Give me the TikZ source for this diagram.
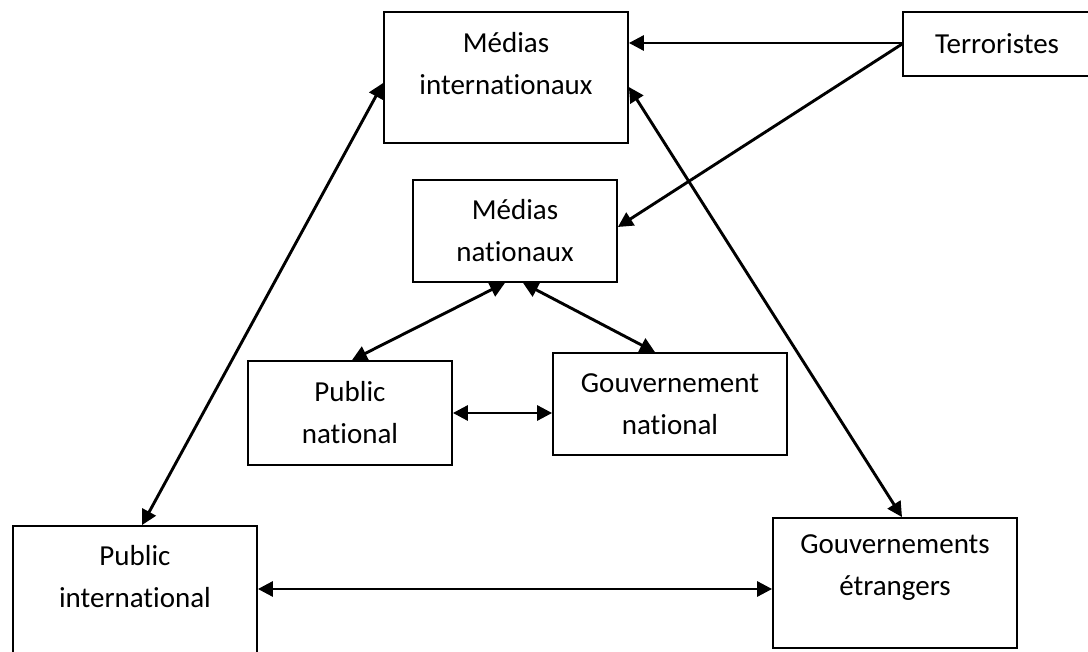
\documentclass[tikz,border=0pt]{standalone}
\usepackage{fontspec}
\setmainfont{Carlito}[Ligatures=NoCommon]
\usetikzlibrary{arrows.meta}
\begin{document}
\begin{tikzpicture}[x=1pt, y=-1pt, >={Triangle[length=15pt,width=15pt]},
  every node/.style={font=\fontsize{29}{42}\selectfont},
  actor/.style={draw, line width=1.8pt, align=center, inner sep=0pt},
  link/.style={<->, line width=2.9pt},
  feed/.style={->, line width=2.9pt}]
\useasboundingbox[fill=white] (0,0) rectangle (1088,652);
% media
\node[actor, minimum width=244pt, minimum height=131pt, text depth=29pt] (medint) at (506,77.5) {Médias\\internationaux};
\node[actor, minimum width=188pt, minimum height=64pt] (terr) at (997,44) {Terroristes};
\node[actor, minimum width=204pt, minimum height=102pt] (mednat) at (515,231) {Médias\\nationaux};
% national level
\node[actor, minimum width=204pt, minimum height=104pt] (pubnat) at (350,413) {Public\\national};
\node[actor, minimum width=234pt, minimum height=102pt] (gouvnat) at (670,404) {Gouvernement\\national};
% international level
\node[actor, minimum width=244pt, minimum height=144pt, text depth=44pt] (pubint) at (135,598) {Public\\international};
\node[actor, minimum width=244pt, minimum height=130pt, text depth=35pt] (gouvetr) at (895,583) {Gouvernements\\étrangers};
% terrorists feed the media
\draw[feed] ([yshift=1pt]terr.west) -- ([yshift=1pt]terr.west -| medint.east);
\draw[feed] (terr.west) -- ([yshift=4pt]mednat.east);
% exchanges
\draw[link] ([yshift=-5.5pt]medint.west) -- ([xshift=7pt]pubint.north);
\draw[link] ([yshift=-9.5pt]medint.east) -- ([xshift=7pt]gouvetr.north);
\draw[link] ([xshift=-10pt]mednat.south) -- ([xshift=2pt]pubnat.north);
\draw[link] ([xshift=8pt]mednat.south) -- ([xshift=-15pt]gouvnat.north);
\draw[link] (pubnat.east) -- (pubnat.east -| gouvnat.west);
\draw[link] ([yshift=-6pt]gouvetr.west) -- ([yshift=-6pt]gouvetr.west -| pubint.east);
\end{tikzpicture}
\end{document}
